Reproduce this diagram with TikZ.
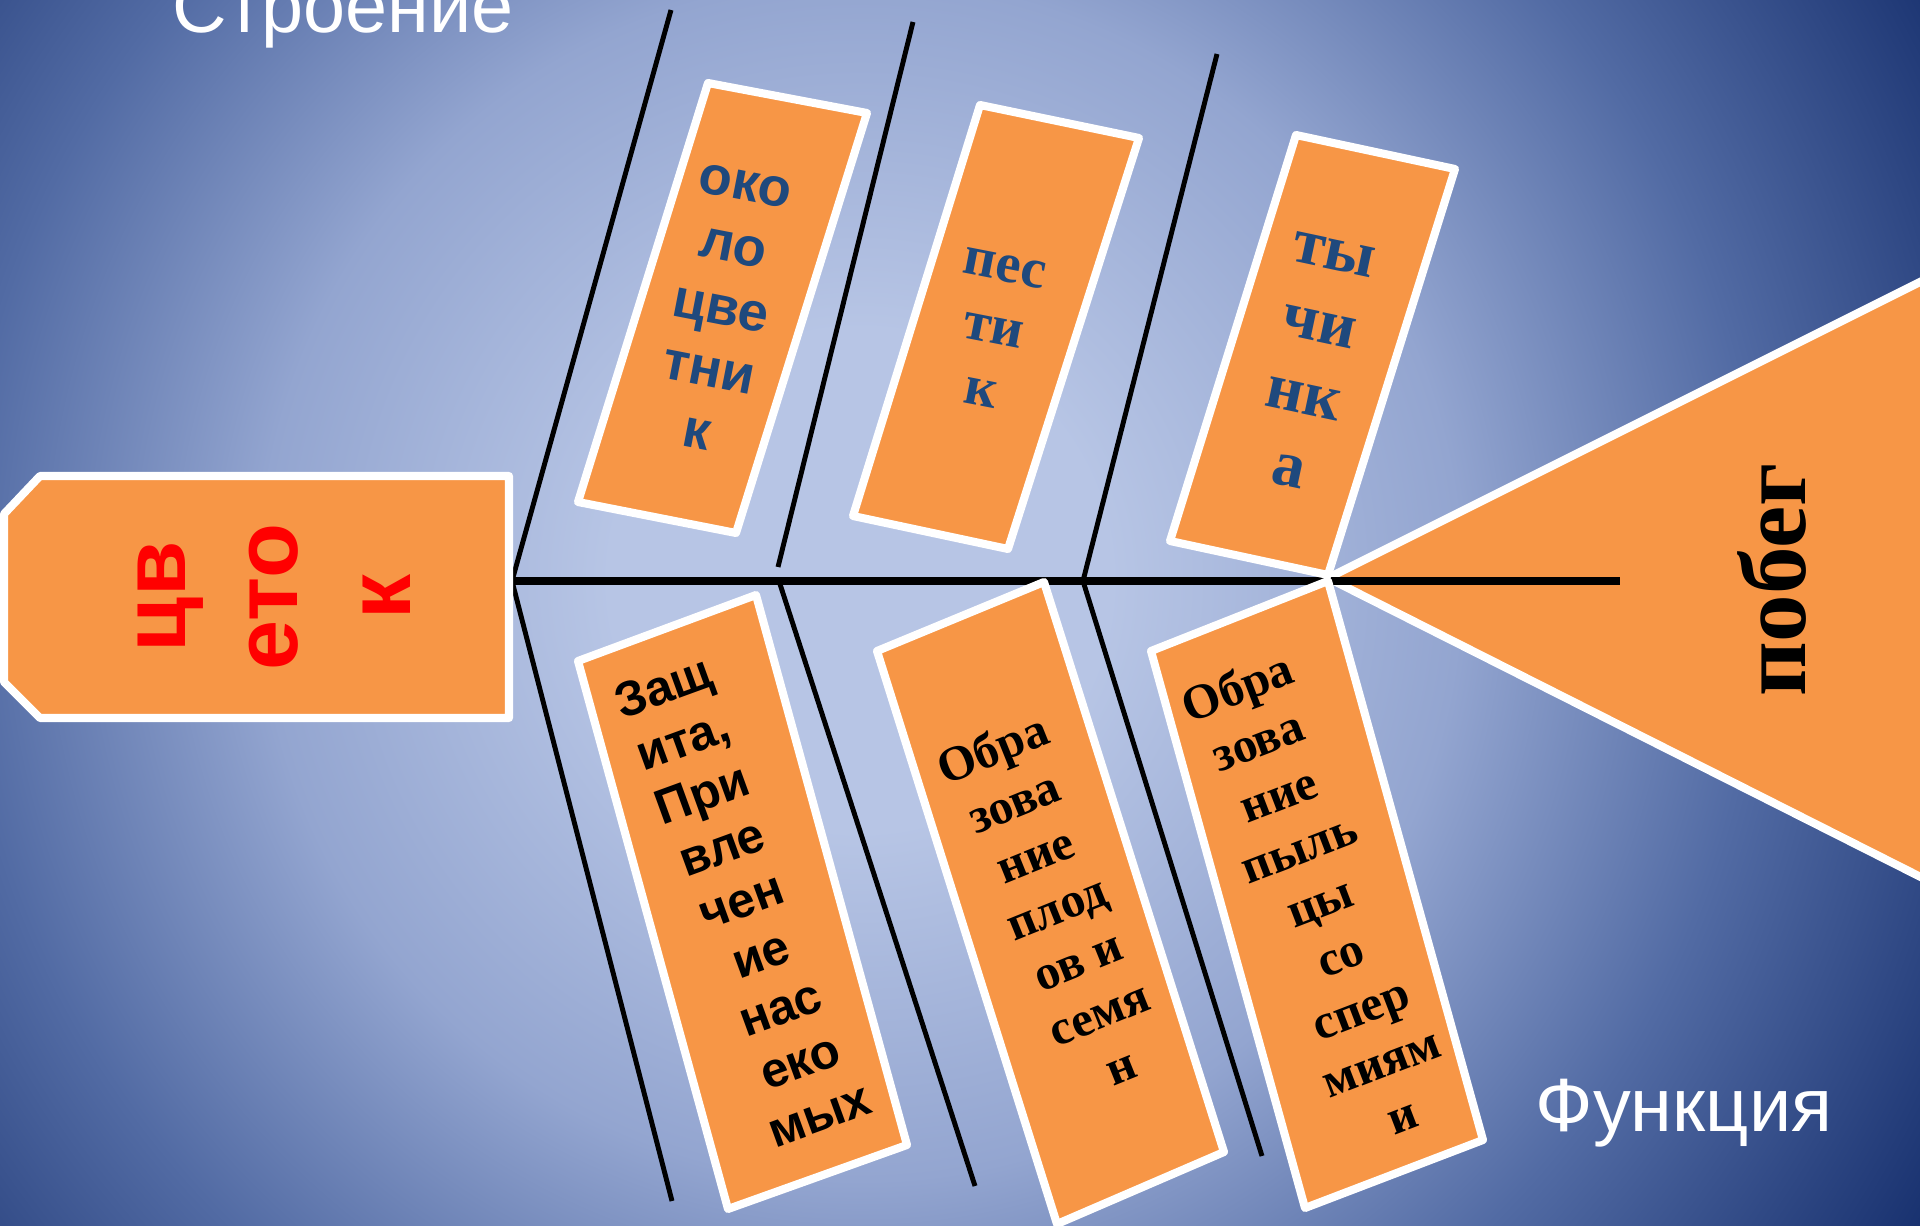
\documentclass[tikz,border=0pt]{standalone}
\usepackage{fontspec}
\setmainfont{Liberation Serif}
\setsansfont{Liberation Sans}
\usepackage{tikz}
\usetikzlibrary{calc,positioning}

\definecolor{petal}{HTML}{F79646}
\definecolor{inkblue}{HTML}{1F497D}
\definecolor{bglight}{HTML}{B7C5E5}
\definecolor{bgmid}{HTML}{93A5D0}
\definecolor{bgshade}{HTML}{526BA4}
\definecolor{bgdark}{HTML}{17306E}
\pgfdeclareradialshading{backdrop}{\pgfpoint{0bp}{0bp}}{color(0bp)=(bglight); color(5bp)=(bglight); color(12bp)=(bgmid); color(18bp)=(bgshade); color(25bp)=(bgdark); color(50bp)=(bgdark)}

\tikzset{%
	bone/.style     = {line width=1.4pt, black},
	spine/.style    = {line width=2pt, black},
	card/.style     = {draw=white, fill=petal, line width=2.3pt, line join=round},
	headtext/.style = {inner sep=0pt, align=center, rotate=90, text=red, font=\sffamily\bfseries\fontsize{25.6}{32}\selectfont},
	parttext/.style = {inner sep=0pt, align=center, text=inkblue},
	jobtext/.style  = {inner sep=0pt, align=center, text=black},
	caption/.style  = {inner sep=0pt, anchor=base west, text=white, font=\sffamily\fontsize{21.5}{25}\selectfont},
}

\begin{document}
\begin{tikzpicture}[x=0.1mm,y=-0.1mm]
	\useasboundingbox (0,0) rectangle (1920,1226);
	\clip (0,0) rectangle (1920,1226);
	\shade[shading=backdrop] (860,580) circle (1250);
	
	\coordinate (head) at (512,581);
	\coordinate (tail) at (1620,581);
	\coordinate (j2) at (779,581);
	\coordinate (j3) at (1083,581);
	\coordinate (s2) at (778,567);
	\coordinate (apex) at (1328,578);
	\coordinate (u1) at (671,10);
	\coordinate (u2) at (913,22);
	\coordinate (u3) at (1217,54);
	\coordinate (d1) at (672,1201);
	\coordinate (d2) at (975,1186);
	\coordinate (d3) at (1262,1156);
	
	\draw[bone] (u1) -- (head) -- (d1);
	\draw[bone] (s2) -- (u2);
	\draw[bone] (j2) -- (d2);
	\draw[bone] (u3) -- (j3) -- (d3);
	
	\draw[card] (apex) -- (1990,247) -- (1990,912) -- cycle;
	\draw[spine] (head) -- (tail);
	\draw[card] (40,476) -- (509,476) -- (509,718) -- (40,718) -- (4,682) -- (4,514) -- cycle;
	
	\foreach \ax/\ay/\bx/\by/\cx/\cy/\dx/\dy in {708/83/867/113/736/533/578/502, 980/105/1139/138/1008/549/853/516, 1296/135/1455/169/1328/575/1170/541, 578/661/756/595/907/1145/728/1209, 877/651/1044/582/1224/1152/1057/1224, 1151/651/1328/581/1483/1140/1305/1208}
		\draw[card] (\ax,\ay) -- (\bx,\by) -- (\cx,\cy) -- (\dx,\dy) -- cycle;
	
	\node[headtext] (flower) at (274,597) {цв\\ето\\к};
	\node[jobtext, rotate=90, font=\bfseries\fontsize{27}{32}\selectfont] (shoot) at (1772,580) {побег};
	
	\node[parttext, rotate=-11, font=\sffamily\bfseries\fontsize{15.5}{18}\selectfont] (perianth) at (721,310) {око\\ло\\цве\\тни\\к};
	\node[parttext, rotate=-11, font=\bfseries\fontsize{16}{18}\selectfont] (pistil) at (993,330) {пес\\ти\\к};
	\node[parttext, rotate=-12, font=\bfseries\fontsize{18.5}{21}\selectfont] (stamen) at (1311,363) {ты\\чи\\нк\\а};
	
	\node[jobtext, rotate=20, font=\sffamily\bfseries\fontsize{14}{16.2}\selectfont] (guard) at (741,900) {Защ\\ита,\\При\\вле\\чен\\ие\\нас\\еко\\мых};
	\node[jobtext, rotate=22, font=\bfseries\fontsize{14}{16.2}\selectfont] (fruit) at (1056,906) {Обра\\зова\\ние\\плод\\ов и\\семя\\н};
	\node[jobtext, rotate=21, font=\bfseries\fontsize{14}{16.3}\selectfont] (pollen) at (1319,900) {Обра\\зова\\ние\\пыль\\цы\\со\\спер\\миям\\и};
	
	\node[caption] (structure) at (172,33) {Строение};
	\node[caption] (function) at (1535,1131) {Функция};
\end{tikzpicture}
\end{document}
